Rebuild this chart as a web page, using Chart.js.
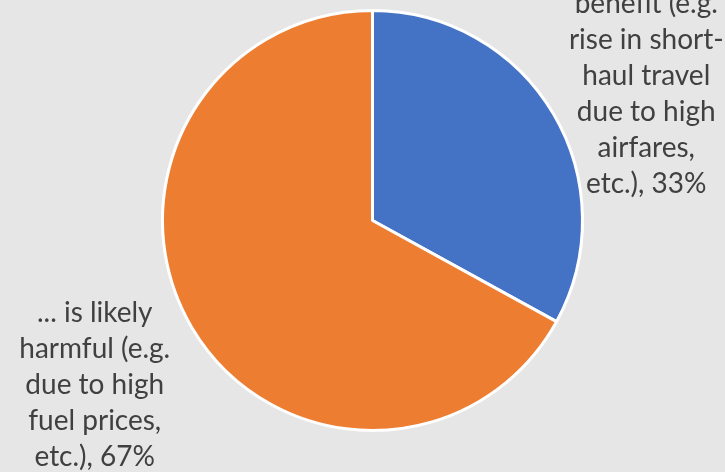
<!DOCTYPE html>
<html>
<head>
<meta charset="utf-8">
<script src="https://cdn.jsdelivr.net/npm/chart.js@4/dist/chart.umd.min.js"></script>
<style>
  html, body { margin: 0; padding: 0; background: #e7e6e6; }
  #wrap { width: 725px; height: 472px; position: relative; }
</style>
</head>
<body>
<div id="wrap"><canvas id="chart"></canvas></div>
<script>
// data
var categories = ["... is likely of benefit (e.g. rise in short-haul travel due to high airfares, etc.)",
                  "... is likely harmful (e.g. due to high fuel prices, etc.)"];
var shares = [33, 67];
var colours = ["#4472c4", "#ed7d31"];

// how the data labels wrap, one array per slice
var labelLines = [
  ["... is likely of", "benefit (e.g.", "rise in short-", "haul travel", "due to high", "airfares,", "etc.), 33%"],
  ["... is likely", "harmful (e.g.", "due to high", "fuel prices,", "etc.), 67%"]
];

// label block placement relative to the slice edge (dx, dy of block centre, in px)
var labelShift = [[93, -38], [-97, 58]];

var lineHeight = 36;

// draws the outside labels next to each slice
var outsideLabels = {
  id: "outsideLabels",
  afterDatasetsDraw: function(chart) {
    var ctx = chart.ctx;
    var meta = chart.getDatasetMeta(0);
    ctx.save();
    ctx.font = "28px Lato";
    ctx.fillStyle = "#404040";
    ctx.textAlign = "center";
    ctx.textBaseline = "middle";
    meta.data.forEach(function(arc, i) {
      let mid = (arc.startAngle + arc.endAngle) / 2;
      let ex = arc.x + Math.cos(mid) * arc.outerRadius;
      let ey = arc.y + Math.sin(mid) * arc.outerRadius;
      let lines = labelLines[i];
      let cx = ex + labelShift[i][0];
      let cy = ey + labelShift[i][1];
      let top = cy - (lines.length - 1) * lineHeight / 2;
      for (let j = 0; j < lines.length; j++) {
        ctx.fillText(lines[j], cx, top + j * lineHeight);
      }
    });
    ctx.restore();
  }
};

var bgPlugin = {
  id: "bg",
  beforeDraw: function(chart) {
    var ctx = chart.ctx;
    ctx.save();
    ctx.fillStyle = "#e7e6e6";
    ctx.fillRect(0, 0, chart.width, chart.height);
    ctx.restore();
  }
};

new Chart(document.getElementById("chart"), {
  type: "pie",
  data: {
    labels: categories,
    datasets: [{
      data: shares,
      backgroundColor: colours,
      borderColor: "#ffffff",
      borderWidth: 3
    }]
  },
  options: {
    responsive: true,
    maintainAspectRatio: false,
    animation: false,
    layout: { padding: { top: 9, bottom: 40, left: 161, right: 141 } },
    plugins: {
      legend: { display: false },
      tooltip: { enabled: false }
    }
  },
  plugins: [bgPlugin, outsideLabels]
});
</script>
</body>
</html>
